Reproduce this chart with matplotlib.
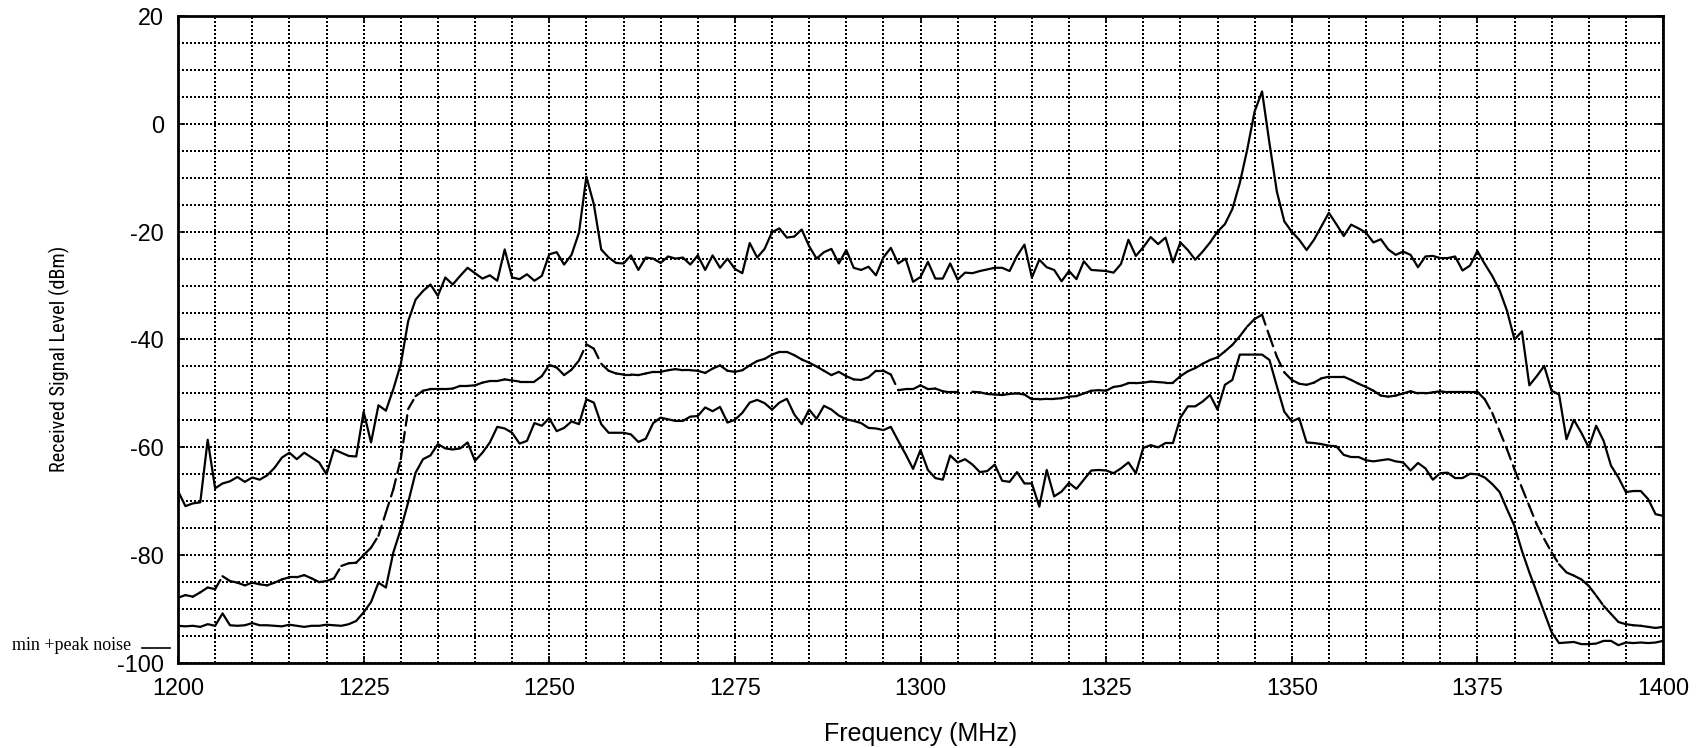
import numpy as np
import matplotlib
matplotlib.use("Agg")
import matplotlib.pyplot as plt
from matplotlib import font_manager
from matplotlib.collections import LineCollection
from matplotlib.lines import Line2D
from matplotlib.ticker import MultipleLocator

plt.rcParams['lines.scale_dashes'] = False
plt.rcParams['axes.unicode_minus'] = False
plt.rcParams['font.family'] = ['Liberation Sans', 'DejaVu Sans']

freq = np.arange(1200, 1401, 1)

peak_level = [
    -68.1, -70.9, -70.4, -70.2, -58.6, -67.6, -66.7, -66.3, -65.5, -66.4,
    -65.6, -66.0, -65.2, -63.8, -61.9, -61.0, -62.2, -61.0, -61.9, -62.8,
    -65.0, -60.4, -61.0, -61.6, -61.7, -53.4, -59.1, -52.2, -53.2, -49.2,
    -44.6, -36.6, -32.6, -31.0, -29.8, -31.9, -28.5, -29.8, -28.2, -26.7,
    -27.7, -28.7, -28.1, -29.1, -23.3, -28.5, -28.8, -27.9, -29.1, -28.2,
    -24.2, -23.8, -26.1, -24.3, -20.2, -9.8, -14.9, -23.3, -24.8, -25.8,
    -25.9, -24.4, -27.1, -24.8, -25.0, -25.8, -24.6, -25.0, -24.8, -26.1,
    -24.4, -27.1, -24.4, -26.7, -25.0, -26.9, -27.7, -22.1, -24.8, -23.2,
    -20.1, -19.4, -21.1, -20.9, -19.6, -22.7, -25.0, -23.8, -23.2, -25.9,
    -23.4, -26.7, -27.1, -26.5, -28.1, -24.8, -23.0, -25.9, -25.0, -29.3,
    -28.4, -25.6, -28.7, -28.7, -25.9, -28.9, -27.6, -27.7, -27.3, -27.0,
    -26.7, -26.7, -27.3, -24.5, -22.4, -28.5, -25.2, -26.6, -27.1, -29.2,
    -27.3, -28.8, -25.5, -27.1, -27.2, -27.3, -27.6, -26.0, -21.5, -24.5,
    -22.9, -21.0, -22.3, -21.1, -25.7, -22.0, -23.4, -25.2, -23.7, -22.0,
    -20.0, -18.6, -15.8, -11.0, -4.8, 2.3, 6.0, -3.6, -12.6, -18.1,
    -20.0, -21.5, -23.4, -21.5, -19.0, -16.5, -18.6, -20.8, -18.7, -19.4,
    -20.2, -22.0, -21.4, -23.3, -24.3, -23.7, -24.3, -26.6, -24.6, -24.5,
    -24.9, -24.9, -24.6, -27.2, -26.3, -23.6, -26.0, -28.2, -30.9, -34.7,
    -40.0, -38.5, -48.5, -46.8, -44.9, -49.5, -50.2, -58.5, -54.9, -57.3,
    -60.0, -56.0, -58.8, -63.4, -65.6, -68.3, -68.1, -68.1, -69.6, -72.4,
    -72.7,
]

mean_level = [
    -87.9, -87.4, -87.7, -86.9, -86.0, -86.3, -83.9, -84.8, -85.1, -85.6,
    -85.1, -85.4, -85.6, -85.1, -84.5, -84.1, -84.1, -83.7, -84.3, -85.0,
    -84.8, -84.3, -82.0, -81.5, -81.4, -80.0, -78.6, -76.4, -72.1, -67.8,
    -62.2, -52.9, -50.5, -49.5, -49.2, -49.2, -49.2, -49.1, -48.6, -48.6,
    -48.5, -48.0, -47.7, -47.7, -47.4, -47.6, -47.8, -47.8, -47.8, -46.8,
    -44.7, -45.2, -46.6, -45.6, -43.9, -40.9, -41.7, -44.5, -45.8, -46.3,
    -46.5, -46.5, -46.6, -46.3, -46.0, -46.0, -45.7, -45.5, -45.7, -45.7,
    -45.8, -46.2, -45.4, -44.8, -45.8, -46.0, -45.7, -44.8, -44.0, -43.6,
    -42.8, -42.3, -42.3, -42.9, -43.7, -44.3, -45.0, -45.8, -46.6, -46.0,
    -46.8, -47.4, -47.5, -47.0, -45.8, -45.8, -46.5, -49.4, -49.2, -49.2,
    -48.5, -49.2, -49.1, -49.6, -49.8, -49.8, np.nan, -49.7, -49.8, -50.1,
    -50.2, -50.3, -50.1, -50.0, -50.2, -51.1, -51.1, -51.0, -51.0, -50.9,
    -50.6, -50.5, -50.0, -49.5, -49.4, -49.5, -48.8, -48.6, -48.1, -48.1,
    -48.0, -47.8, -47.9, -48.0, -48.0, -46.8, -45.9, -45.3, -44.5, -43.8,
    -43.3, -42.2, -41.0, -39.4, -37.6, -36.2, -35.4, -39.4, -43.2, -46.1,
    -47.5, -48.2, -48.4, -48.0, -47.2, -46.9, -46.9, -46.9, -47.5, -48.2,
    -48.8, -49.5, -50.4, -50.6, -50.4, -50.0, -49.6, -50.0, -50.0, -49.8,
    -49.6, -49.8, -49.8, -49.8, -49.8, -49.7, -51.1, -53.6, -57.0, -60.4,
    -64.1, -67.5, -70.9, -74.3, -77.0, -79.5, -81.7, -83.2, -83.8, -84.5,
    -85.7, -87.5, -89.4, -90.9, -92.4, -92.8, -93.0, -93.1, -93.3, -93.5,
    -93.3,
]

min_level = [
    -93.1, -93.2, -93.1, -93.3, -92.8, -93.1, -90.8, -93.0, -93.1, -93.0,
    -92.6, -93.0, -93.0, -93.1, -93.2, -92.9, -93.1, -93.3, -93.1, -93.1,
    -92.9, -93.0, -93.1, -92.8, -92.2, -90.6, -88.7, -85.1, -86.0, -79.5,
    -75.2, -70.2, -64.7, -62.2, -61.5, -59.4, -60.2, -60.4, -60.2, -59.1,
    -62.5, -61.0, -59.1, -56.2, -56.5, -57.3, -59.3, -58.8, -55.5, -56.0,
    -54.6, -57.0, -56.4, -55.2, -55.7, -51.1, -51.7, -55.7, -57.3, -57.3,
    -57.3, -57.6, -59.0, -58.4, -55.5, -54.5, -54.8, -55.1, -55.1, -54.3,
    -54.2, -52.6, -53.3, -52.5, -55.4, -54.9, -53.6, -51.7, -51.2, -51.8,
    -53.0, -51.7, -51.0, -53.9, -55.7, -53.0, -54.7, -52.3, -53.0, -54.1,
    -54.8, -55.1, -55.5, -56.4, -56.5, -56.8, -56.2, -58.8, -61.3, -64.0,
    -60.5, -64.2, -65.7, -66.0, -61.5, -62.8, -62.2, -63.2, -64.6, -64.4,
    -63.2, -66.2, -66.4, -64.6, -66.7, -66.7, -71.0, -64.2, -69.1, -68.2,
    -66.6, -67.7, -66.0, -64.3, -64.2, -64.3, -64.8, -63.9, -62.8, -64.8,
    -60.1, -59.6, -60.0, -59.2, -59.2, -54.5, -52.4, -52.4, -51.5, -50.3,
    -53.0, -48.4, -47.5, -42.8, -42.8, -42.8, -42.8, -43.8, -48.7, -53.4,
    -55.2, -54.6, -59.1, -59.2, -59.4, -59.7, -59.8, -61.4, -61.8, -61.8,
    -62.4, -62.6, -62.4, -62.2, -62.6, -62.8, -64.3, -62.9, -63.9, -66.0,
    -64.8, -64.7, -65.7, -65.7, -64.9, -65.0, -65.6, -66.8, -68.3, -71.5,
    -74.6, -79.2, -83.2, -86.9, -90.6, -94.3, -96.3, -96.2, -96.1, -96.5,
    -96.5, -96.4, -95.9, -95.9, -96.7, -96.2, -96.3, -96.2, -96.3, -96.2,
    -95.9,
]

x_ticks = [1200, 1225, 1250, 1275, 1300, 1325, 1350, 1375, 1400]
y_ticks = [-100, -80, -60, -40, -20, 0, 20]

# a narrow sans face for the y label, if one is installed
_names = {f.name for f in font_manager.fontManager.ttflist}
narrow = None
for cand in ['Liberation Sans Narrow', 'Arial Narrow', 'Roboto Condensed',
             'Open Sans Condensed', 'DejaVu Sans Condensed']:
    if cand in _names:
        narrow = cand
        break

W, H = 1705, 748
fig = plt.figure(figsize=(W / 100, H / 100), dpi=100)
ax = fig.add_axes([178 / W, 1 - 663 / H, (1663 - 178) / W, (663 - 16) / H])

ax.set_xlim(1200, 1400)
ax.set_ylim(-100, 20)
ax.set_xticks(x_ticks)
ax.set_yticks(y_ticks)
ax.xaxis.set_minor_locator(MultipleLocator(5))
ax.yaxis.set_minor_locator(MultipleLocator(5))
ax.grid(True, which='both', color='black', linewidth=1.3,
        linestyle=(0, (1.1, 1.45)), antialiased=False)
ax.set_axisbelow(True)

for s in ax.spines.values():
    s.set_linewidth(2.0)
ax.tick_params(which='major', direction='in', length=5, width=1.2,
               top=True, right=True, labelsize=16.8, pad=10)
ax.tick_params(which='minor', length=0)

lw = 1.6
ax.plot(freq, peak_level, color='black', linewidth=lw, solid_joinstyle='round')
ax.plot(freq, min_level, color='black', linewidth=lw, solid_joinstyle='round')

# middle trace: dashed, with the dash pattern restarting at every sample
mean_arr = np.asarray(mean_level, dtype=float)
segs = []
for i in range(len(freq) - 1):
    if np.isfinite(mean_arr[i]) and np.isfinite(mean_arr[i + 1]):
        segs.append([(freq[i], mean_arr[i]), (freq[i + 1], mean_arr[i + 1])])
lc = LineCollection(segs, colors='black', linewidths=lw,
                    linestyles=[(0, (7.6, 4.6))], capstyle='round')
ax.add_collection(lc)

ax.set_xlabel('Frequency (MHz)', fontsize=18, va='center')
ax.xaxis.set_label_coords(0.5, -0.1097)
if narrow is not None:
    ax.set_ylabel('Received Signal Level (dBm)', fontsize=14.6, va='center',
                  family=[narrow, 'Liberation Sans'])
else:
    ax.set_ylabel('Received Signal Level (dBm)', fontsize=13.5, va='center')
ax.yaxis.set_label_coords(-0.0795, 0.47)

fig.text(12 / W, 1 - 650 / H, 'min +peak noise', fontsize=13,
         family=['Liberation Serif', 'DejaVu Serif'], va='baseline', ha='left')
fig.add_artist(Line2D([142 / W, 170 / W], [1 - 648 / H, 1 - 648 / H],
                      transform=fig.transFigure, color='black', linewidth=1.2))

fig.savefig('out.png', dpi=100, facecolor='white')
